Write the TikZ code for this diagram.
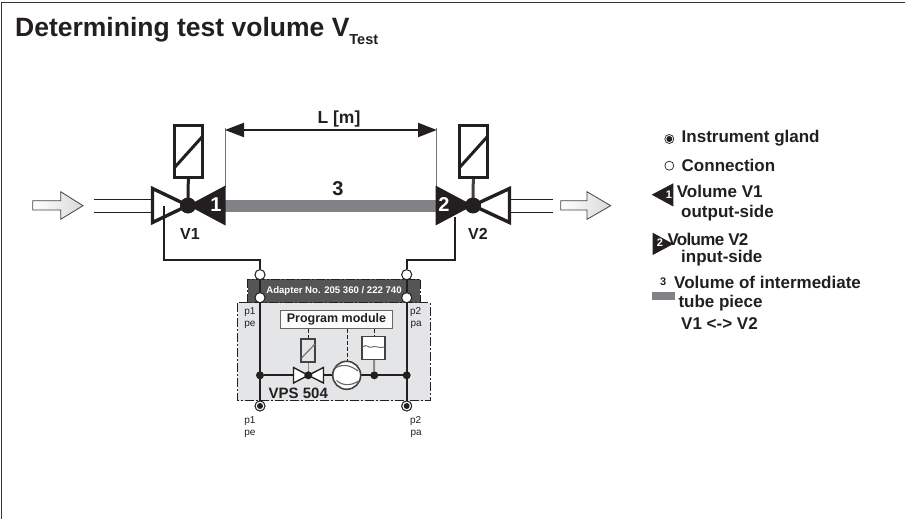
\documentclass[tikz,border=0pt]{standalone}
\usepackage{fontspec}
\setmainfont{Liberation Sans}
\definecolor{panel}{HTML}{E4E5E6}
\definecolor{adapt}{HTML}{555555}
\definecolor{pipe}{HTML}{808285}
\definecolor{ink}{HTML}{231F20}
\tikzset{
  x=1pt,y=-1pt,
  lbl/.style={inner sep=0pt,anchor=west,text=ink,font=\fontsize{17}{19}\selectfont\bfseries},
  plab/.style={inner sep=0pt,text=ink,font=\fontsize{10}{11}\selectfont},
  vlab/.style={inner sep=0pt,text=ink,font=\fontsize{16}{18}\selectfont\bfseries},
  hvy/.style={draw=ink,line width=2pt},
  conn/.style={draw=ink,fill=white,line width=.9pt,circle,minimum size=10pt,inner sep=0pt},
  jct/.style={fill=ink,circle,minimum size=8pt,inner sep=0pt},
  gland/.style={draw=ink,fill=white,line width=.9pt,circle,minimum size=10pt,inner sep=0pt,
     path picture={\fill[ink] (path picture bounding box.center) circle (3pt);}},
  dashdot/.style={dash pattern=on 9pt off 2pt on 2pt off 2pt},
  flow/.style={draw=ink!85,line width=.8pt,left color=white,right color=black!15},
}
\begin{document}
\begin{tikzpicture}
\useasboundingbox (0,0) rectangle (906,519);
\draw[ink!90,line width=1.6pt] (1.5,519) -- (1.5,2.5) -- (904.5,2.5);

\node[inner sep=0pt,anchor=base west,text=ink] (title) at (15,36.5)
  {\fontsize{26.5}{28}\selectfont\bfseries Determining test volume V\raisebox{-8.5pt}{\fontsize{14.5}{16}\selectfont Test}};

% flow arrows and lines
\draw[flow] (32.7,200.7) -- (60.7,200.7) -- (60.7,191.7) -- (83,205.7) -- (60.7,219.3) -- (60.7,210) -- (32.7,210) -- cycle;
\draw[flow] (560.7,200.7) -- (587,200.7) -- (587,191.7) -- (610.7,205.7) -- (587,219.3) -- (587,210) -- (560.7,210) -- cycle;
\draw[ink,line width=.8pt] (94,199.5) -- (151,199.5) (94,212) -- (151,212);
\draw[ink,line width=.8pt] (510,199.5) -- (552.7,199.5) (510,212) -- (552.7,212);

% tube
\fill[pipe] (225,199.5) rectangle (436,211.7);
\node[vlab,font=\fontsize{20}{22}\selectfont\bfseries] (three) at (338,189) {3};

% dimension
\coordinate (dimL) at (225,130);
\coordinate (dimR) at (436.7,130);
\draw[black!55,line width=.7pt] (225,128) -- (225,187) (436.7,128) -- (436.7,187);
\draw[hvy,line width=1.8pt] (242,130) -- (420,130);
\fill[ink] (225,130) -- (244,122.7) -- (244,137.3) -- cycle;
\fill[ink] (436.7,130) -- (418,122.7) -- (418,137.3) -- cycle;
\node[vlab,font=\fontsize{17.5}{19}\selectfont\bfseries] (len) at (339,119) {L [m]};

% V1
\coordinate (v1) at (188,205.5);
\node[draw=ink,line width=3.2pt,minimum width=28pt,minimum height=52pt,inner sep=0pt] (sol1) at (188.3,151.5) {};
\draw[ink,line width=3pt] (175,167) -- (202,137);
\draw[ink,line width=3pt] (sol1.south) -- (v1);
\draw[ink,line width=3.4pt,line join=miter,fill=white] (152.5,188.5) -- (v1) -- (152.5,222.5) -- cycle;
\fill[ink] (225.5,185.5) -- (v1) -- (225.5,225.5) -- cycle;
\fill[ink] (v1) circle (8pt);
\node[inner sep=0pt,text=white,font=\fontsize{20}{22}\selectfont\bfseries] (n1) at (216,205) {1};
\node[vlab] (v1l) at (190,234) {V1};

% V2
\coordinate (v2) at (473,205.5);
\node[draw=ink,line width=3.2pt,minimum width=28pt,minimum height=52pt,inner sep=0pt] (sol2) at (473.3,151.5) {};
\draw[ink,line width=3pt] (460,167) -- (487,137);
\draw[ink!85,line width=3pt] (sol2.south) -- (v2);
\draw[ink,line width=3.4pt,line join=miter,fill=white] (509.5,188.5) -- (v2) -- (509.5,222.5) -- cycle;
\fill[ink] (435.5,185.5) -- (v2) -- (435.5,225.5) -- cycle;
\fill[ink] (v2) circle (8pt);
\node[inner sep=0pt,text=white,font=\fontsize{20}{22}\selectfont\bfseries] (n2) at (444,205) {2};
\node[vlab] (v2l) at (478,234) {V2};

% panels
\fill[panel] (237.7,302.7) rectangle (430,400.7);
\draw[ink,line width=1pt,dashdot] (237.7,302.7) rectangle (430,400.7);
\fill[adapt] (247.7,279) rectangle (420,302.7);
\draw[ink,line width=1pt,dashdot] (247.7,279) rectangle (420,302.7);
\node[inner sep=0pt,text=white,font=\fontsize{9.6}{11}\selectfont\bfseries] (adapter) at (334,290.7) {Adapter No. 205 360 / 222 740};

% tubes to the adapter
\node[conn] (c1) at (260,274.7) {};
\node[conn] (c2) at (406.7,274.7) {};
\node[conn] (c3) at (260,297.7) {};
\node[conn] (c4) at (406.7,297.7) {};
\node[gland] (g1) at (260,406) {};
\node[gland] (g2) at (406.7,406) {};
\coordinate (t1) at (164,205.5);
\coordinate (t2) at (455,217);
\draw[ink,line width=1.8pt] (t1) |- (260,260) -- (c1);
\draw[ink,line width=1.8pt] (t2) |- (406.7,260) -- (c2);
\draw[ink,line width=2pt] (c1) -- (c3) -- (g1);
\draw[ink,line width=2pt] (c2) -- (c4) -- (g2);
\node[conn] at (260,274.7) {};
\node[conn] at (406.7,274.7) {};
\node[conn] at (260,297.7) {};
\node[conn] at (406.7,297.7) {};
\node[gland] at (260,406) {};
\node[gland] at (406.7,406) {};

% program module
\node[draw=black!60,fill=white!90!panel,line width=.6pt,minimum width=112pt,minimum height=18pt,inner sep=0pt,text=ink,font=\fontsize{12.5}{14}\selectfont\bfseries] (pm) at (336.5,319.5) {Program module};
\draw[ink,line width=.9pt,dash pattern=on 4pt off 2pt] (308.3,328.5) -- (308.3,338);
\draw[ink,line width=.9pt,dash pattern=on 4pt off 2pt] (347.3,328.5) -- (347.3,361);
\draw[ink,line width=.9pt,dash pattern=on 4pt off 2pt] (374,328.5) -- (374,336);

% measuring line
\node[jct] (j1) at (260,375.3) {};
\node[jct] (j2) at (406.7,375.3) {};
\draw[ink,line width=1.8pt] (j1) -- (j2);

% small valve
\coordinate (v3) at (308.3,375.3);
\draw[black!45,line width=1.6pt] (308.3,362) -- (v3);
\draw[ink,line width=1.4pt,line join=miter,fill=white] (293.5,367.5) -- (v3) -- (293.5,383) -- cycle;
\draw[ink,line width=1.4pt,line join=miter,fill=white] (323.5,367.5) -- (v3) -- (323.5,383) -- cycle;
\node[draw=ink!85,fill=panel,line width=1.5pt,minimum width=14pt,minimum height=23pt,inner sep=0pt] (sol3) at (308.2,350.7) {};
\draw[black!55,line width=1.2pt] (301.5,358) -- (315,344);
\fill[ink] (v3) circle (4pt);

% pump
\node[circle,draw=ink!85,fill=white,line width=1.6pt,minimum size=28pt,inner sep=0pt] (pump) at (346.7,375.3) {};
\draw[black!60,line width=1.1pt] (335.5,368) .. controls (343,363.5) and (350,365) .. (358,371);
\draw[black!60,line width=1.1pt] (336.5,380.5) .. controls (343,386) and (351,386) .. (358.5,381);

% gauge
\node[jct] (j3) at (374.3,375.3) {};
\draw[black!45,line width=2pt] (374,359) -- (j3);
\node[draw=ink!85,fill=white,line width=1.5pt,minimum width=23pt,minimum height=23pt,inner sep=0pt] (gauge) at (373.5,348) {};
\draw[black!55,line width=1pt] (362.5,347) .. controls (367,343) and (368,349) .. (372,347) .. controls (376,345) and (379,349) .. (384.5,347);

\node[inner sep=0pt,text=ink,font=\fontsize{15}{16}\selectfont\bfseries] (vps) at (298.3,393.3) {VPS 504};

% p labels
\node[plab] (a1) at (250,311.7) {p1};
\node[plab] (a2) at (250,325) {pe};
\node[plab] (b1) at (415.7,311.7) {p2};
\node[plab] (b2) at (416.2,325) {pa};
\node[plab] (a3) at (250,421) {p1};
\node[plab] (a4) at (250,434) {pe};
\node[plab] (b3) at (415.7,421.5) {p2};
\node[plab] (b4) at (416.2,434) {pa};

% legend
\node[gland,minimum size=9pt,line width=.7pt] (lg) at (669.3,139) {};
\node[lbl] (l1) at (681.5,138.3) {Instrument gland};
\node[conn,minimum size=9pt,line width=.7pt] (lc) at (669.3,165.7) {};
\node[lbl] (l2) at (681.5,165) {Connection};
\fill[ink] (651.7,194.7) -- (673.3,183.3) -- (673.3,206.5) -- cycle;
\node[inner sep=0pt,text=white,font=\fontsize{11}{12}\selectfont\bfseries] (k1) at (669,194.5) {1};
\node[lbl] (l3) at (676.7,191) {Volume V1};
\node[lbl] (l4) at (681,213.3) {output-side};
\fill[ink] (652.7,232.7) -- (673.3,244) -- (652.7,255) -- cycle;
\node[inner sep=0pt,text=white,font=\fontsize{11}{12}\selectfont\bfseries] (k2) at (660,243) {2};
\node[lbl,font=\fontsize{17}{19}\selectfont\bfseries\addfontfeatures{LetterSpace=-4}] (l5) at (667.3,239.3) {Volume V2};
\node[lbl] (l6) at (681,258.3) {input-side};
\node[inner sep=0pt,text=ink,font=\fontsize{11}{12}\selectfont\bfseries] (k3) at (663.3,282) {3};
\node[lbl] (l7) at (674,282.3) {Volume of intermediate};
\fill[pipe] (651.7,292.3) rectangle (675,300.3);
\node[lbl] (l8) at (678.3,303.3) {tube piece};
\node[lbl] (l9) at (681,324) {V1 <-> V2};
\end{tikzpicture}
\end{document}
